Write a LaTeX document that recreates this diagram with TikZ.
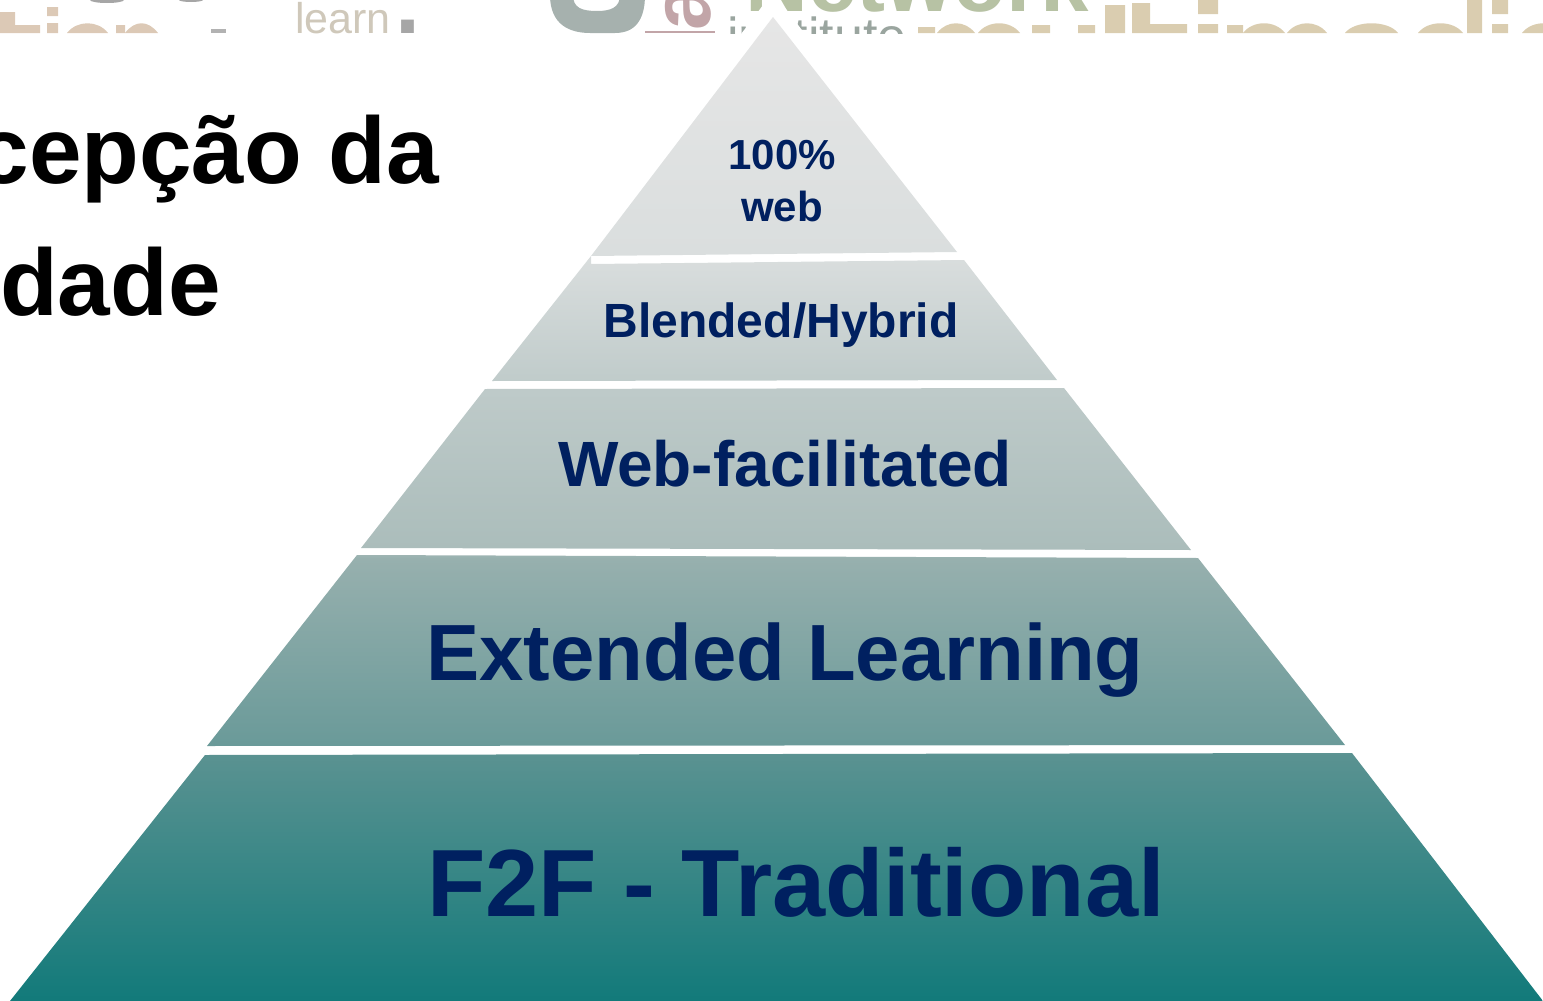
\documentclass[tikz,border=0pt]{standalone}
\usepackage{fontspec}
\setmainfont{Liberation Sans}
\definecolor{navytext}{HTML}{002060}
\definecolor{logotan}{HTML}{DACDB0}
\definecolor{logoskin}{HTML}{DCC9B6}
\definecolor{logogrey}{HTML}{A6B1AE}
\definecolor{logogreen}{HTML}{B7C2A4}
\definecolor{logored}{HTML}{C2A5A8}
\definecolor{logolearn}{HTML}{CFC8BA}
\definecolor{logoinst}{HTML}{9AA59F}
\definecolor{fadea}{HTML}{127A7A}
\definecolor{fadeb}{HTML}{5A9291}
\definecolor{fadec}{HTML}{6A9A99}
\definecolor{faded}{HTML}{97B0AE}
\definecolor{fadee}{HTML}{ABBDBB}
\definecolor{fadef}{HTML}{BECAC9}
\definecolor{fadeg}{HTML}{DADEDE}
\definecolor{fadeh}{HTML}{E6E6E6}
\pgfdeclareverticalshading{pyramidfade}{100bp}{
  color(0bp)=(fadea);
  color(25bp)=(fadea);
  color(37.5bp)=(fadeb);
  color(38bp)=(fadec);
  color(47.5bp)=(faded);
  color(48bp)=(fadee);
  color(56bp)=(fadef);
  color(63bp)=(fadeg);
  color(75bp)=(fadeh);
  color(100bp)=(fadeh)}
\tikzset{
  banner/.style={font=\bfseries\fontsize{94.5}{95}\selectfont, text=black, anchor=base east, inner sep=0pt},
  label/.style={font=\bfseries\fontsize{#1}{#1}\selectfont, text=navytext, anchor=base, inner sep=0pt},
  logo/.style={inner sep=0pt, anchor=base west}
}
\begin{document}
\begin{tikzpicture}[x=1pt,y=-1pt]
    \useasboundingbox (0,0) rectangle (1543,1001);
    % Faded header, cut off at its lower edge
    \begin{scope}
        \clip (0,0) rectangle (1543,33);
        \fill[gray!70] (107,0) ellipse (17 and 3);
        \fill[gray!70] (191,0) ellipse (12 and 2);
        % Left tops of letters
        \fill[logoskin] (0,12) rectangle (15,33) (15,25) rectangle (40,33)
            (47,7) rectangle (58,16) (47,23) rectangle (58,33) (116,25) rectangle (125,33);
        \foreach \xa/\xb in {67/108,125/158}
            \fill[logoskin] (\xa,33) .. controls (\xa+10,20) and (\xb-10,20) .. (\xb,33) -- cycle;
        \fill[gray!60] (211,29) rectangle (226,33);
        \node[logo, text=logolearn, font=\fontsize{43}{43}\selectfont] (oldlearn) at (295,33)
            {learn\kern5pt{\color{gray!70}\bfseries\fontsize{90}{90}\selectfont .}};
        % Logo in the middle
        \fill[logogrey] (550,-5) .. controls (550,25) and (570,33) .. (590,33) -- (615,33)
            .. controls (635,33) and (645,20) .. (645,-5) -- (620,-5)
            .. controls (620,8) and (610,11) .. (597,11)
            .. controls (582,11) and (573,8) .. (573,-5) -- cycle;
        \node[inner sep=0pt, text=logored, rotate=90, font=\bfseries\fontsize{84}{84}\selectfont] (oldmark) at (688,7) {a};
        \fill[logored] (645,31) rectangle (715,33);
        \node[logo, text=logogreen, font=\bfseries\fontsize{87}{87}\selectfont] (oldnet) at (745,11) {Network};
        \node[logo, text=logoinst, font=\fontsize{52}{52}\selectfont] (oldinst) at (727,54) {institute};
        % Right tops of letters
        \fill[logotan] (918,27) rectangle (935,33)
            (1032,25) rectangle (1050,33) (1078,25) rectangle (1095,33)
            (1105,5) rectangle (1125,33) (1132,3) rectangle (1150,33) (1150,24) rectangle (1187,33)
            (1198,0) rectangle (1218,14) (1198,24) rectangle (1218,33) (1227,25) rectangle (1243,33)
            (1467,0) rectangle (1482,33) (1492,0) rectangle (1508,14) (1492,24) rectangle (1508,33);
        \foreach \xa/\xb in {937/975,978/1020,1243/1285,1287/1327,1345/1398,1418/1463,1522/1565}
            \fill[logotan] (\xa,33) .. controls (\xa+10,20) and (\xb-10,20) .. (\xb,33) -- cycle;
    \end{scope}
    % White margin round the apex
    \fill[white] (773,-8) -- (811,42) -- (735,42) -- cycle;
    % Pyramid bands, one shading over all of them
    \path[shade, shading=pyramidfade]
        (773,17) -- (957,252) -- (591,256) -- cycle
        (591,256) -- (591,264) -- (964,260) -- (1057,380) -- (492,381) -- cycle
        (485,389) -- (1064,388) -- (1191,550) -- (361,548) -- cycle
        (357,555) -- (1198,558) -- (1345,745) -- (207,746) -- cycle
        (205,755) -- (1352,753) -- (1543,1001) -- (10,1001) -- cycle;
    % Band labels
    \node[label=42] (webpct) at (782,169) {100\%};
    \node[label=42] (webword) at (782,221) {web};
    \node[label=48] (hybrid) at (781,337) {Blended/Hybrid};
    \node[label=64] (facilitated) at (785,486) {Web-facilitated};
    \node[label=79.7] (extended) at (785,680) {Extended Learning};
    \node[label=95.5] (traditional) at (796,916) {F2F - Traditional};
    % Cut title on the left
    \node[banner] (titleone) at (439,183) {cepção da};
    \node[banner] (titletwo) at (221,315) {dade};
\end{tikzpicture}
\end{document}
